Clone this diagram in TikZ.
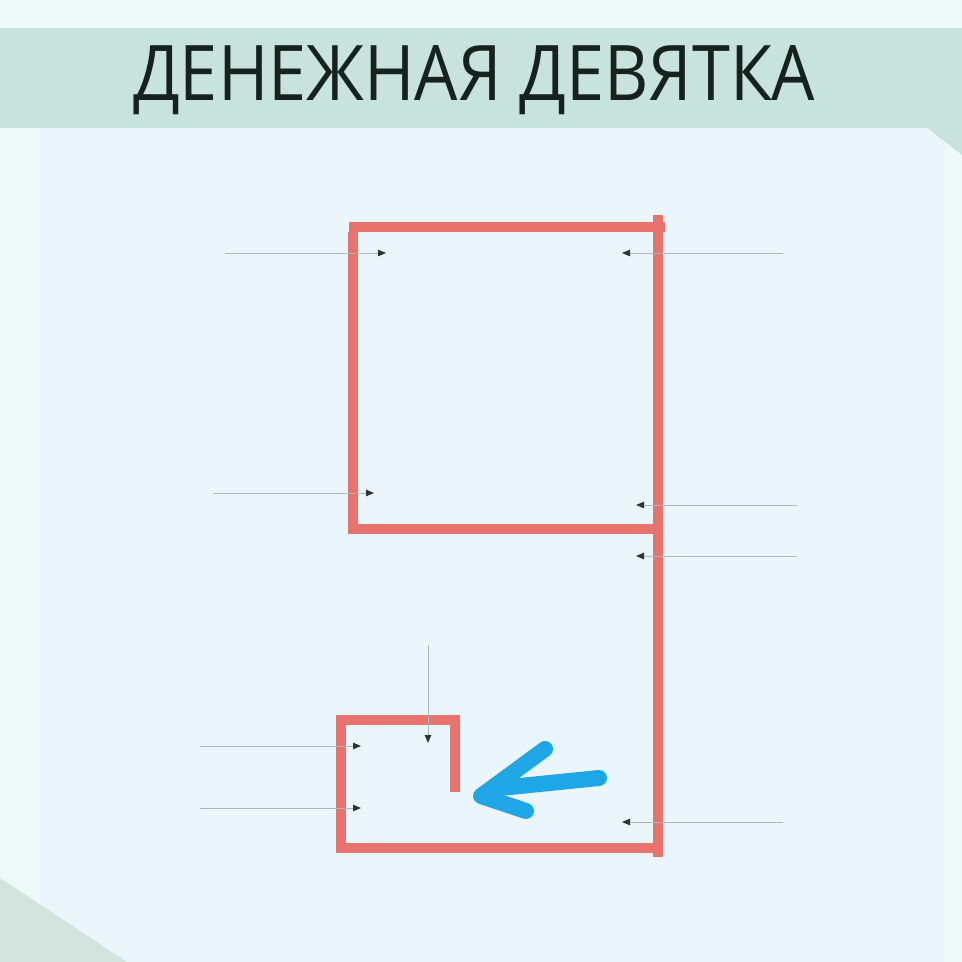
\documentclass[tikz,border=0pt]{standalone}
\usepackage{fontspec}
\usepackage{graphicx}
\newfontfamily\titlefont{Open Sans}
\usetikzlibrary{arrows.meta}
\definecolor{topbg}{HTML}{EEFAFA}
\definecolor{band}{HTML}{C8E3DB}
\definecolor{panel}{HTML}{EAF5FC}
\definecolor{tri}{HTML}{D2E2DC}
\definecolor{redline}{HTML}{E8736D}
\definecolor{blueline}{HTML}{1EA6E6}
\definecolor{thin}{HTML}{AEB8BC}
\definecolor{head}{HTML}{2E3436}
\definecolor{titlecol}{HTML}{16221E}
\tikzset{
  pointer/.style={draw=thin, line width=0.9pt, -{Triangle[length=8pt,width=6.5pt,color=head]}},
  nine/.style={draw=redline, line width=9.5pt, line join=miter},
  bluearrow/.style={draw=blueline, line width=16pt, line cap=round, line join=round},
}
\begin{document}
\begin{tikzpicture}[x=1pt,y=-1pt]
\useasboundingbox (0,0) rectangle (962,962);
% backgrounds
\fill[topbg] (0,0) rectangle (962,962);
\fill[band] (0,28) rectangle (962,128);
\fill[band] (925,126) -- (962,126) -- (962,155) -- cycle;
\fill[panel] (40,128) -- (928,128) -- (945,145) -- (945,962) -- (40,962) -- cycle;
\fill[tri] (0,878) -- (127,962) -- (0,962) -- cycle;
% title
\node[anchor=base west, inner sep=0pt, text=titlecol] (title) at (133,100)
  {\resizebox{682pt}{55pt}{\titlefont ДЕНЕЖНАЯ ДЕВЯТКА}};
% red nine
\path[nine] (665,227) -- (349,227);
\path[nine] (353,232) -- (353,529) -- (660,529);
\path[nine] (658,215) -- (658,857);
\path[nine] (455,792) -- (455,720) -- (341,720) -- (341,848) -- (662,848);
% thin arrows
\coordinate (a1s) at (225,253); \coordinate (a1e) at (386,253);
\coordinate (a2s) at (783,253); \coordinate (a2e) at (622,253);
\coordinate (a3s) at (213,493); \coordinate (a3e) at (374,493);
\coordinate (a4s) at (797,505); \coordinate (a4e) at (636,505);
\coordinate (a5s) at (797,556); \coordinate (a5e) at (636,556);
\coordinate (a6s) at (428,645); \coordinate (a6e) at (428,743);
\coordinate (a7s) at (200,746); \coordinate (a7e) at (361,746);
\coordinate (a8s) at (200,808); \coordinate (a8e) at (361,808);
\coordinate (a9s) at (783,822); \coordinate (a9e) at (622,822);
\foreach \i in {1,...,9} { \draw[pointer] (a\i s) -- (a\i e); }
% blue arrow
\coordinate (btip) at (481,796);
\coordinate (bend) at (599,778);
\coordinate (bup) at (545,749);
\coordinate (blow) at (526,811);
\draw[bluearrow] (bend) -- (500,788);
\draw[bluearrow] (bup) -- (btip) -- (blow);
\end{tikzpicture}
\end{document}
